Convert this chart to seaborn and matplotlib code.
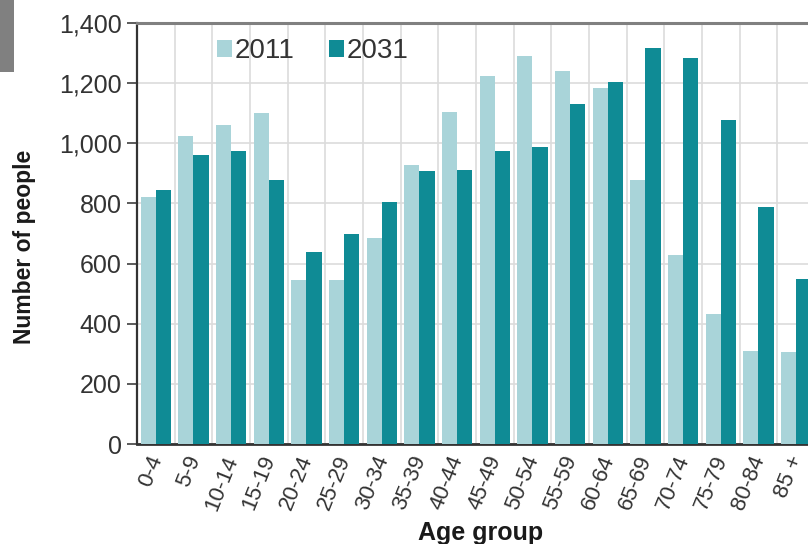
import numpy as np
import pandas as pd
import matplotlib
matplotlib.use("Agg")
import matplotlib.pyplot as plt
import matplotlib.transforms as mtransforms
import seaborn as sns
from matplotlib.patches import Rectangle

age_groups = ["0-4", "5-9", "10-14", "15-19", "20-24", "25-29", "30-34", "35-39",
              "40-44", "45-49", "50-54", "55-59", "60-64", "65-69", "70-74", "75-79",
              "80-84", "85 +"]
values_2011 = [820, 1025, 1060, 1100, 545, 545, 685, 928, 1103, 1225, 1290, 1240,
               1185, 878, 630, 433, 310, 305]
values_2031 = [845, 960, 975, 878, 640, 697, 805, 908, 910, 975, 988, 1130,
               1205, 1318, 1285, 1077, 787, 550]
years = ["2011", "2031"]
y_ticks = [0, 200, 400, 600, 800, 1000, 1200, 1400]

df = pd.DataFrame({
    "Age group": age_groups * 2,
    "Number": values_2011 + values_2031,
    "Year": [years[0]] * len(age_groups) + [years[1]] * len(age_groups),
})

sns.set_theme(style="white")
plt.rcParams["font.family"] = ["Liberation Sans", "DejaVu Sans"]

fig = plt.figure(figsize=(8.08, 5.44), dpi=100)
ax = fig.add_axes([137 / 808, 100 / 544, 678 / 808, 421 / 544])

palette = {"2011": "#a9d4d9", "2031": "#0f8b95"}
sns.barplot(data=df, x="Age group", y="Number", hue="Year", order=age_groups,
            hue_order=years, palette=palette, width=0.8, saturation=1,
            linewidth=0, edgecolor="none", ax=ax, zorder=3)

ax.set_ylim(0, 1400)
ax.set_xlim(-0.5, len(age_groups) - 0.5)
ax.set_yticks(y_ticks)
ax.set_yticklabels([f"{v:,}" for v in y_ticks], fontsize=18, color="#333333")
ax.tick_params(axis="y", length=7, width=1.2, color="#404040", pad=4, left=True)
ax.set_xticks(range(len(age_groups)))
ax.set_xticklabels(age_groups, rotation=68, ha="right", va="center",
                   rotation_mode="anchor", fontsize=16, color="#333333")
ax.tick_params(axis="x", length=0, pad=9)
offset = mtransforms.ScaledTranslation(1 / 100, 0, fig.dpi_scale_trans)
for lbl in ax.get_xticklabels():
    lbl.set_transform(lbl.get_transform() + offset)
ax.set_xticks(np.arange(-0.5, len(age_groups), 1), minor=True)
ax.tick_params(axis="x", which="minor", length=0)

ax.grid(False)
ax.grid(axis="y", which="major", color="#dcdcdc", linewidth=1.2, zorder=0)
ax.grid(axis="x", which="minor", color="#dcdcdc", linewidth=1.2, zorder=0)
ax.set_axisbelow(True)

for side in ["left", "bottom", "top", "right"]:
    ax.spines[side].set_visible(True)
ax.spines["left"].set_color("#333333")
ax.spines["left"].set_linewidth(1.6)
ax.spines["bottom"].set_color("#333333")
ax.spines["bottom"].set_linewidth(2)
ax.spines["top"].set_color("#808080")
ax.spines["top"].set_linewidth(2.2)
ax.spines["right"].set_visible(False)

ax.set_xlabel("")
ax.set_ylabel("Number of people", fontsize=16.5, fontweight="bold", color="#1a1a1a")
ax.yaxis.set_label_coords(-0.149, 0.468)

fig.text(481 / 808, 1 - 521 / 544, "Age group", ha="center", va="top",
         fontsize=18, fontweight="bold", color="#1a1a1a")

handles, labels = ax.get_legend_handles_labels()
ax.legend(handles, labels, ncol=2, frameon=False, loc="center left",
          bbox_to_anchor=(217 / 808, 1 - 51 / 544), bbox_transform=fig.transFigure,
          borderpad=0, borderaxespad=0, handlelength=0.55, handleheight=0.55,
          handletextpad=0.08, columnspacing=1.25, fontsize=20,
          labelcolor="#333333")

fig.patches.append(Rectangle((0, 1 - 72 / 544), 14 / 808, 72 / 544,
                             transform=fig.transFigure, facecolor="#808080",
                             edgecolor="none", zorder=0))

fig.savefig("out.png", dpi=100)
